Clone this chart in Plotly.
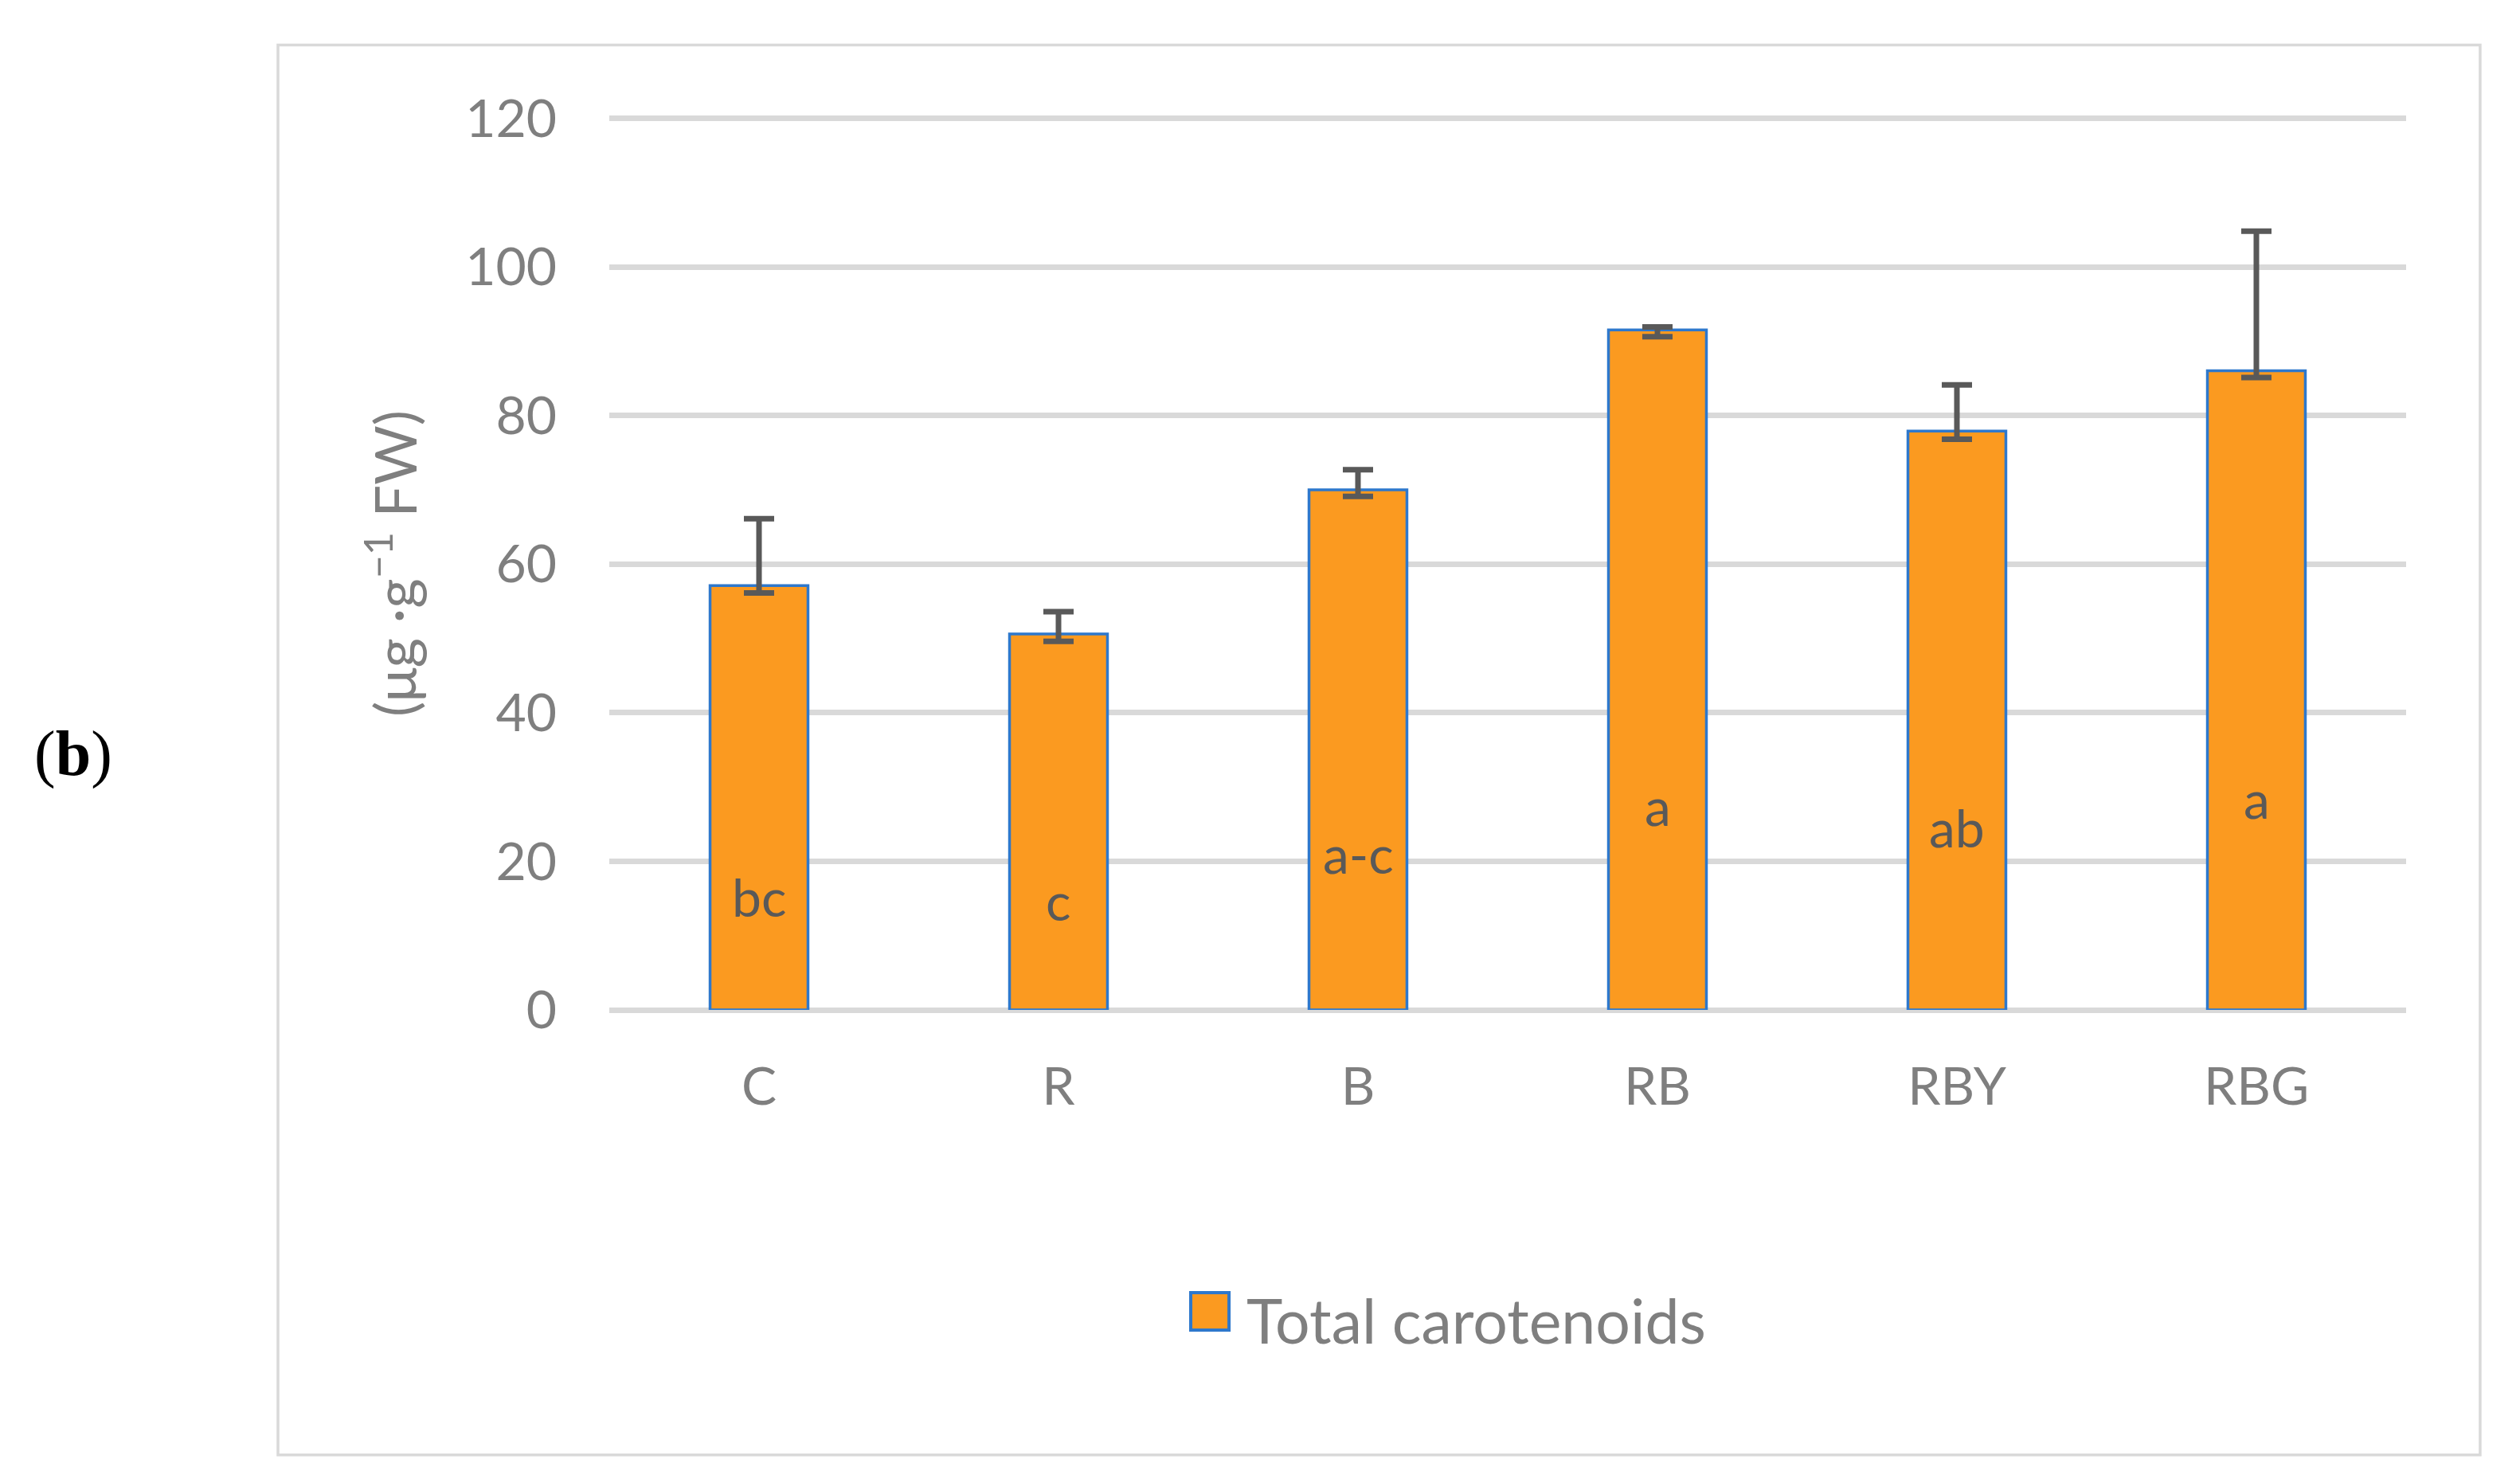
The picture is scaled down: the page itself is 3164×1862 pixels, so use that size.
import plotly.graph_objects as go

# treatments and total carotenoid content (ug/g FW)
treatments = ["C", "R", "B", "RB", "RBY", "RBG"]
carotenoids = [57.1, 50.6, 70.0, 91.5, 77.9, 86.0]
err_plus = [9.0, 3.0, 2.7, 0.4, 6.2, 18.8]
err_minus = [1.0, 1.0, 0.9, 0.9, 1.1, 0.9]
letters = ["bc", "c", "a-c", "a", "ab", "a"]
letter_y = [15.3, 14.7, 21.1, 27.5, 24.6, 28.5]

# page body has an 8px margin, so the figure is a bit smaller than the window
W, H = 3148, 1846
GRAY = "#7f7f7f"
FONT = "Lato"

fig = go.Figure()
fig.add_trace(go.Bar(
    x=treatments, y=carotenoids, name="Total carotenoids",
    marker=dict(color="#FB9A20", line=dict(color="#2E78CC", width=3.5)),
    error_y=dict(type="data", symmetric=False, array=err_plus, arrayminus=err_minus,
                 color="#595959", thickness=7, width=19),
    showlegend=False,
))

# significance letters inside the bars
for t, lab, ly in zip(treatments, letters, letter_y):
    fig.add_annotation(x=t, y=ly, text=lab, showarrow=False, yanchor="middle",
                       font=dict(family=FONT, size=66, color="#595959"))

# outer chart border
fig.add_shape(type="rect", xref="paper", yref="paper",
              x0=-0.1844, x1=1.0412, y0=-0.4985, y1=1.0808,
              line=dict(color="#d9d9d9", width=3.5), fillcolor="rgba(0,0,0,0)")

# legend (drawn by hand so the swatch is as big as in the original)
fig.add_shape(type="rect", xref="paper", yref="paper",
              x0=0.3236, x1=0.3449, y0=-0.3585, y1=-0.3166,
              line=dict(color="#2E78CC", width=4), fillcolor="#FB9A20")
fig.add_annotation(xref="paper", yref="paper", x=0.3537, y=-0.347,
                   xanchor="left", yanchor="middle", showarrow=False,
                   text="Total carotenoids", font=dict(family=FONT, size=77, color=GRAY))

# panel label
fig.add_annotation(xref="paper", yref="paper", x=-0.321, y=0.245, showarrow=False,
                   text="(<b>b</b>)", font=dict(family="Liberation Serif", size=80, color="black"))

fig.update_layout(
    width=W, height=H,
    margin=dict(l=757, r=135, t=139, b=586),
    paper_bgcolor="white", plot_bgcolor="white",
    bargap=0.673,
    font=dict(family=FONT, color=GRAY, size=66),
)
fig.update_xaxes(showgrid=False, showline=False, ticks="", ticklabelstandoff=52,
                 tickfont=dict(family=FONT, size=66, color=GRAY))
fig.update_yaxes(range=[0, 120.15], tickvals=[0, 20, 40, 60, 80, 100, 120],
                 showgrid=True, gridcolor="#d9d9d9", gridwidth=7,
                 zeroline=True, zerolinecolor="#d9d9d9", zerolinewidth=7,
                 showline=False, ticks="", ticklabelstandoff=65,
                 tickfont=dict(family=FONT, size=66, color=GRAY),
                 title=dict(text="(μg ·g<sup>−1</sup> FW)", standoff=36,
                            font=dict(family=FONT, size=72, color=GRAY)))

fig.write_html("out.html")
